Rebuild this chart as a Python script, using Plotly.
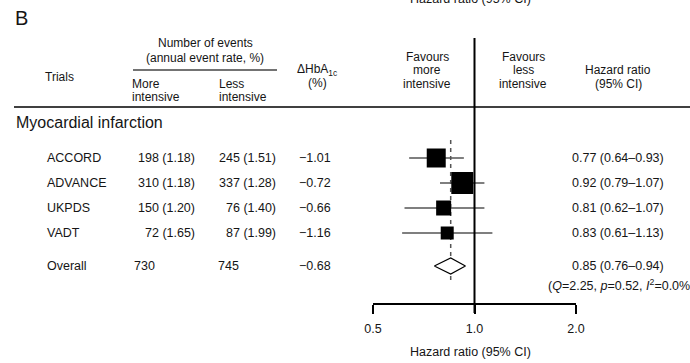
import math
import plotly.graph_objects as go

# ---- data -------------------------------------------------------------
trials = ["ACCORD", "ADVANCE", "UKPDS", "VADT"]
events_more = [198, 310, 150, 72]
rate_more = [1.18, 1.18, 1.20, 1.65]
events_less = [245, 337, 76, 87]
rate_less = [1.51, 1.28, 1.40, 1.99]
hba1c_diff = [-1.01, -0.72, -0.66, -1.16]
hr = [0.77, 0.92, 0.81, 0.83]
hr_lo = [0.64, 0.79, 0.62, 0.61]
hr_hi = [0.93, 1.07, 1.07, 1.13]

overall_more = 730
overall_less = 745
overall_hba1c = -0.68
overall_hr = 0.85
overall_lo = 0.76
overall_hi = 0.94
het_q = 2.25
het_p = 0.52
het_i2 = 0.0

axis_ticks = [0.5, 1.0, 2.0]
axis_ticklabels = ["0.5", "1.0", "2.0"]

# ---- layout constants (page is 690 x 363 px, y axis works in px) ------
W, H = 690, 363
row_y = [158, 183, 208, 233]
overall_y = 266
box_px = [19, 22, 15, 13]          # square sizes, proportional to study weight
FONT = "Liberation Sans, Arial, sans-serif"
INK = "#151515"


def px(x):
    return x / W


def fmt_num(v, nd=2):
    s = f"{abs(v):.{nd}f}"
    return ("\u2212" + s) if v < 0 else s


def fmt_ci(h, lo, hi):
    return f"{h:.2f} ({lo:.2f}\u2013{hi:.2f})"


fig = go.Figure()

# confidence-interval whiskers
ci_x, ci_y = [], []
for lo, hi, y in zip(hr_lo, hr_hi, row_y):
    ci_x += [lo, hi, None]
    ci_y += [y, y, None]
fig.add_trace(go.Scatter(x=ci_x, y=ci_y, mode="lines",
                         line=dict(color="black", width=1.2),
                         hoverinfo="skip", showlegend=False))

# dashed line at the pooled estimate
fig.add_trace(go.Scatter(x=[overall_hr, overall_hr], y=[140, 281], mode="lines",
                         line=dict(color="#555555", width=1.5, dash="4px,4px"),
                         hoverinfo="skip", showlegend=False))

# line of no effect
fig.add_trace(go.Scatter(x=[1.0, 1.0], y=[38, 313], mode="lines",
                         line=dict(color="black", width=2),
                         hoverinfo="skip", showlegend=False))

# study squares
fig.add_trace(go.Scatter(x=hr, y=row_y, mode="markers",
                         marker=dict(symbol="square", size=box_px, color="black",
                                     opacity=1, line=dict(width=0)),
                         hoverinfo="skip", showlegend=False))

# pooled diamond
dh = 8
fig.add_trace(go.Scatter(
    x=[overall_lo, overall_hr, overall_hi, overall_hr, overall_lo],
    y=[overall_y, overall_y - dh, overall_y, overall_y + dh, overall_y],
    mode="lines", fill="toself", fillcolor="white",
    line=dict(color="black", width=1.2),
    hoverinfo="skip", showlegend=False))

ann = []


def text(x, y, s, size=12.5, anchor="left", color=INK):
    ann.append(dict(x=px(x), y=y, xref="paper", yref="y", text=s,
                    showarrow=False, xanchor=anchor, yanchor="middle",
                    font=dict(family=FONT, size=size, color=color)))


# panel letter and top caption (partly above the page edge)
text(13, 18, "B", size=20)
ann.append(dict(x=px(470), y=1 + 1 / H, xref="paper", yref="paper",
                text="Hazard ratio (95% CI)", showarrow=False,
                xanchor="center", yanchor="middle",
                font=dict(family=FONT, size=12.5, color=INK)))

# column headers
text(43, 77, "Trials", size=12)
text(205, 43, "Number of events", size=12, anchor="center")
text(205, 58, "(annual event rate, %)", size=12, anchor="center")
text(130, 83.5, "More", size=12)
text(130, 97, "intensive", size=12)
text(217, 83.5, "Less", size=12)
text(217, 97, "intensive", size=12)
text(317, 70, "\u0394HbA<sub>1c</sub>", size=12, anchor="center")
text(317, 83, "(%)", size=12, anchor="center")
for cx, lines in [(427, ["Favours", "more", "intensive"]),
                  (523, ["Favours", "less", "intensive"])]:
    for yy, ln in zip([57, 70, 83.5], lines):
        text(cx, yy, ln, size=12, anchor="center")
text(618, 70, "Hazard ratio", size=12, anchor="center")
text(618, 83.5, "(95% CI)", size=12, anchor="center")

# section label
text(14, 122, "Myocardial infarction", size=16)

# study rows
for i, name in enumerate(trials):
    y = row_y[i]
    text(45, y, name)
    text(197, y, f"{events_more[i]} ({rate_more[i]:.2f})", anchor="right")
    text(278, y, f"{events_less[i]} ({rate_less[i]:.2f})", anchor="right")
    text(333, y, fmt_num(hba1c_diff[i]), anchor="right")
    text(570, y, fmt_ci(hr[i], hr_lo[i], hr_hi[i]))

# overall row
text(45, overall_y, "Overall")
text(132, overall_y, str(overall_more))
text(216, overall_y, str(overall_less))
text(333, overall_y, fmt_num(overall_hba1c), anchor="right")
text(570, overall_y, fmt_ci(overall_hr, overall_lo, overall_hi))
text(546, 285, f"(<i>Q</i>={het_q:.2f}, <i>p</i>={het_p:.2f}, "
               f"<i>I</i><sup>2</sup>={het_i2:.1f}%)")

# x axis title
text(470, 352, "Hazard ratio (95% CI)", size=12.5, anchor="center")

shapes = [
    # rule under the column headers
    dict(type="line", xref="paper", yref="y", x0=px(14), x1=1.0, y0=107, y1=107,
         line=dict(color="black", width=1.5)),
    # rule under "Number of events"
    dict(type="line", xref="paper", yref="y", x0=px(133), x1=px(277), y0=70, y1=70,
         line=dict(color="#444444", width=1.5)),
]

fig.update_layout(
    width=W, height=H,
    margin=dict(l=0, r=0, t=0, b=0, autoexpand=False),
    paper_bgcolor="white", plot_bgcolor="white",
    showlegend=False,
    annotations=ann, shapes=shapes,
    xaxis=dict(type="log", range=[math.log10(0.5), math.log10(2.0)],
               domain=[px(373), px(576)],
               anchor="free", position=1 - 304 / H,
               showgrid=False, zeroline=False,
               showline=True, linecolor="black", linewidth=1.5,
               ticks="outside", ticklen=9, tickwidth=1.5, tickcolor="black",
               tickvals=axis_ticks, ticktext=axis_ticklabels,
               tickfont=dict(family=FONT, size=12.5, color=INK),
               ticklabelstandoff=4, fixedrange=True),
    yaxis=dict(range=[H, 0], domain=[0, 1], visible=False, fixedrange=True),
)

fig.write_html("out.html")
